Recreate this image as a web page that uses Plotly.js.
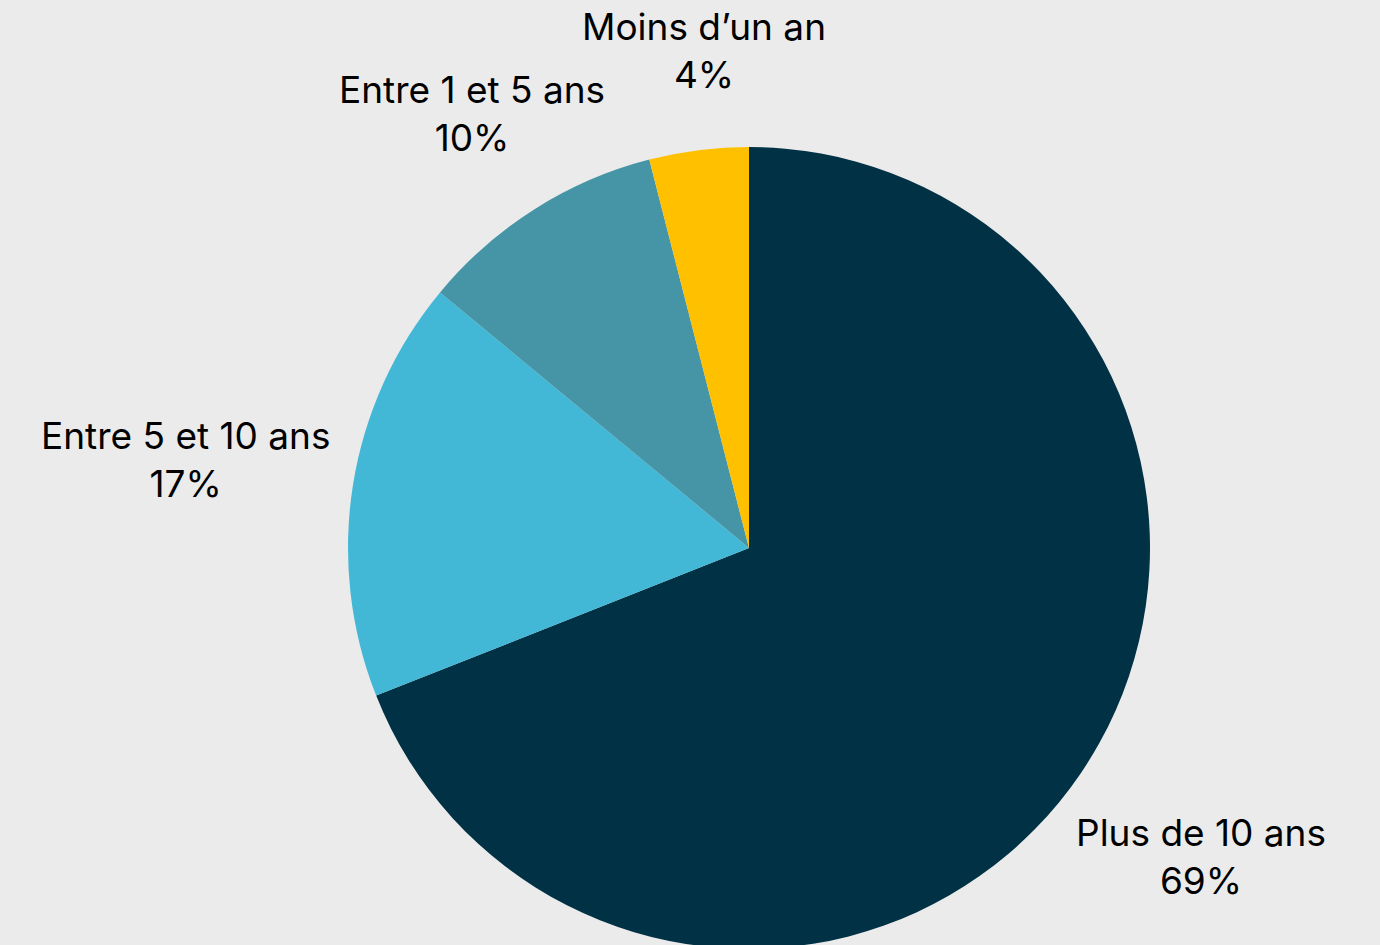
<!DOCTYPE html>
<html>
<head>
<meta charset="utf-8">
<script src="https://cdn.plot.ly/plotly-3.0.1.min.js"></script>
<style>
html,body{margin:0;padding:0;background:#ebebeb;overflow:hidden;}
#chart{width:1380px;height:955px;}
</style>
</head>
<body>
<div id="chart"></div>
<script>
const categories = ["Plus de 10 ans", "Entre 5 et 10 ans", "Entre 1 et 5 ans", "Moins d\u2019un an"];
const shares = [69, 17, 10, 4];
const colors = ["#003145", "#42b7d6", "#4595a7", "#ffc000"];

const W = 1380, H = 955;
const cx = 749, cyTop = 548, R = 401;
const FONT = "Inter, 'Noto Sans', sans-serif";

// label block centres (pixels from top-left), layout only
const labelPos = [[1201, 856], [185, 460], [472, 113], [704, 50]];

const trace = {
  type: "pie",
  labels: categories,
  values: shares,
  sort: false,
  direction: "clockwise",
  rotation: 0,
  marker: {colors: colors, line: {width: 0}},
  textinfo: "none",
  hoverinfo: "skip",
  showlegend: false,
  domain: {
    x: [(cx - 600) / W, (cx + 600) / W],
    y: [(H - cyTop - R) / H, (H - cyTop + R) / H]
  }
};

const annotations = categories.map((c, i) => ({
  text: c + "<br>" + shares[i] + "%",
  xref: "paper", yref: "paper",
  x: labelPos[i][0] / W, y: (H - labelPos[i][1]) / H,
  xanchor: "center", yanchor: "middle",
  align: "center",
  showarrow: false,
  font: {family: FONT, size: 37, color: "#000000"}
}));

Plotly.newPlot("chart", [trace], {
  width: W, height: H,
  margin: {l: 0, r: 0, t: 0, b: 0},
  paper_bgcolor: "#ebebeb",
  plot_bgcolor: "#ebebeb",
  font: {family: FONT, color: "#000000"},
  annotations: annotations
}, {displayModeBar: false, staticPlot: true});
</script>
</body>
</html>
